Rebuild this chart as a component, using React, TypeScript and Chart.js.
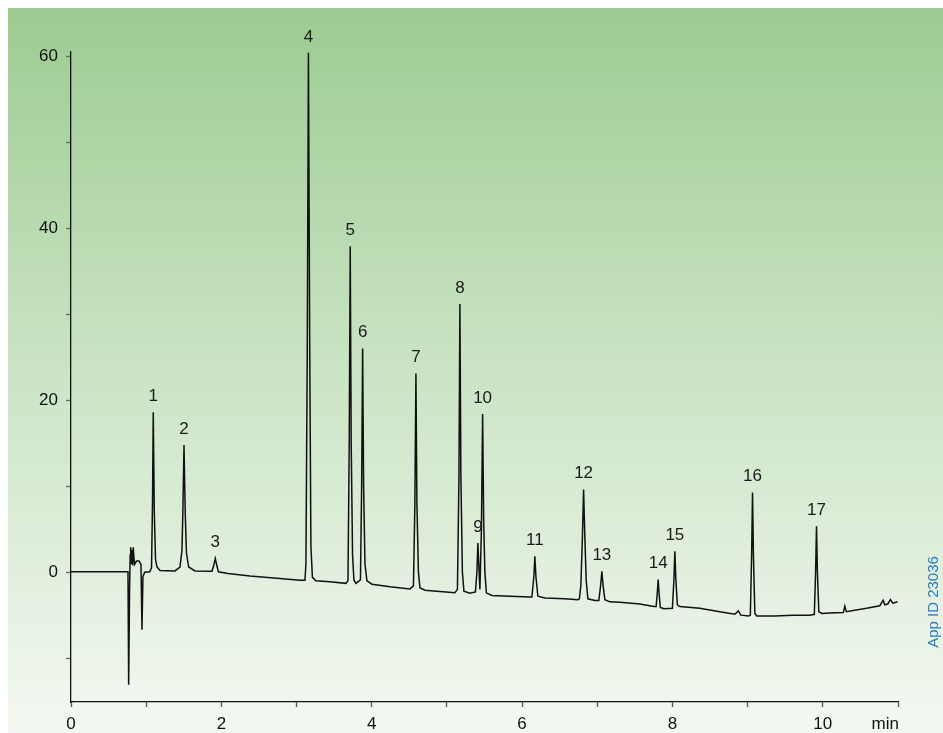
import React, { useEffect, useRef } from "react";
import { Chart, registerables } from "chart.js";

Chart.register(...registerables);

// ---- data ----
const traceTime = [
  0.0, 0.5, 0.758, 0.767, 0.779, 0.787, 0.794, 0.802, 0.811, 0.819, 0.828, 0.844, 0.871, 0.904, 0.931, 0.944, 0.957, 0.98,
  1.047, 1.071, 1.084, 1.094, 1.108, 1.124, 1.144, 1.184, 1.383, 1.449, 1.476, 1.489, 1.503, 1.519, 1.536, 1.565, 1.649,
  1.875, 1.899, 1.919, 1.939, 1.961, 2.088, 2.38, 2.779, 3.045, 3.112, 3.125, 3.142, 3.158, 3.176, 3.191, 3.211, 3.258,
  3.444, 3.657, 3.684, 3.701, 3.714, 3.727, 3.745, 3.763, 3.79, 3.85, 3.866, 3.879, 3.892, 3.91, 3.936, 4.003, 4.242,
  4.508, 4.555, 4.574, 4.588, 4.601, 4.621, 4.641, 4.707, 4.907, 5.106, 5.14, 5.16, 5.173, 5.186, 5.206, 5.226, 5.306,
  5.379, 5.399, 5.412, 5.426, 5.439, 5.459, 5.475, 5.489, 5.505, 5.525, 5.598, 5.838, 6.104, 6.13, 6.157, 6.17, 6.184,
  6.21, 6.303, 6.569, 6.742, 6.762, 6.782, 6.802, 6.818, 6.835, 6.853, 6.875, 6.968, 7.021, 7.045, 7.061, 7.077, 7.101,
  7.168, 7.301, 7.566, 7.753, 7.783, 7.799, 7.81, 7.822, 7.839, 7.886, 7.999, 8.019, 8.032, 8.045, 8.065, 8.098, 8.364,
  8.63, 8.83, 8.876, 8.91, 9.016, 9.036, 9.053, 9.065, 9.077, 9.096, 9.122, 9.362, 9.601, 9.827, 9.887, 9.904, 9.916,
  9.928, 9.947, 9.987, 10.093, 10.273, 10.293, 10.312, 10.581, 10.758, 10.802, 10.824, 10.864, 10.9, 10.931, 10.995,
];
const traceSignal = [
  0.05, 0.05, 0.05, -13.1, -2.0, 2.0, 2.9, 1.0, 2.6, 0.8, 2.9, 0.9, 1.3, 1.3, 0.9, -6.7, -0.5, 0.0,
  0.05, 0.5, 8.0, 18.6, 7.0, 1.5, 0.6, 0.2, 0.15, 0.6, 2.5, 7.5, 14.8, 7.0, 2.2, 0.6, 0.15,
  0.1, 0.8, 1.6, 0.8, 0.05, -0.15, -0.45, -0.75, -0.93, -0.95, 1.0, 25.0, 60.4, 25.0, 3.0, -0.6, -1.0,
  -1.1, -1.3, -1.0, 15.0, 37.9, 15.0, 2.0, -0.9, -1.3, -0.9, 10.0, 26.0, 10.0, 1.0, -1.0, -1.4, -1.7,
  -1.95, -1.6, 8.0, 23.1, 8.0, 0.0, -1.8, -2.1, -2.25, -2.4, -2.0, 11.0, 31.2, 11.0, 0.0, -2.2, -2.45,
  -2.3, 0.0, 3.4, 0.5, -2.0, 5.0, 18.4, 6.0, 0.0, -2.4, -2.7, -2.8, -2.9, -2.9, -0.5, 1.86, -0.5,
  -2.8, -3.0, -3.1, -3.2, -3.1, -1.5, 4.0, 9.6, 4.0, -1.0, -3.1, -3.3, -3.3, -1.5, 0.1, -1.5, -3.2,
  -3.45, -3.5, -3.7, -4.0, -4.0, -2.3, -0.85, -2.5, -4.1, -4.25, -4.2, -1.0, 2.44, -0.8, -3.8, -4.0, -4.2,
  -4.6, -4.9, -4.5, -5.0, -5.1, -5.0, 2.0, 9.27, 2.0, -4.8, -5.1, -5.1, -5.0, -5.0, -4.9, 0.0, 5.35,
  0.0, -4.6, -4.8, -4.75, -4.7, -3.95, -4.6, -4.2, -3.9, -3.26, -3.8, -3.7, -3.2, -3.6, -3.45,
];

const peakNames = ["1", "2", "3", "4", "5", "6", "7", "8", "9", "10", "11", "12", "13", "14", "15", "16", "17"];
const peakTimes = [1.094, 1.503, 1.919, 3.158, 3.714, 3.879, 4.588, 5.173, 5.412, 5.475, 6.17, 6.818, 7.061, 7.81, 8.032, 9.065, 9.916];
const peakHeights = [18.6, 14.8, 1.6, 60.4, 37.9, 26.0, 23.1, 31.2, 3.4, 18.4, 1.86, 9.6, 0.1, -0.85, 2.44, 9.27, 5.35];

const xTickValues = [0, 1, 2, 3, 4, 5, 6, 7, 8, 9, 10, 11];
const xTickLabels = ["0", "", "2", "", "4", "", "6", "", "8", "", "10", ""];
const xUnitLabel = "min";
const yTickValues = [-10, 0, 10, 20, 30, 40, 50, 60];
const yTickLabels = ["", "0", "", "20", "", "40", "", "60"];
const appIdText = "App ID 23036";

const FONT = "'Liberation Sans', Arial, Helvetica, sans-serif";

export default function App() {
  const canvasRef = useRef<HTMLCanvasElement | null>(null);

  useEffect(() => {
    const canvas = canvasRef.current;
    if (!canvas) return;

    const backgroundPlugin = {
      id: "bgGradient",
      beforeDraw(chart: any) {
        const { ctx, width, height } = chart;
        const g = ctx.createLinearGradient(0, 0, 0, height);
        g.addColorStop(0, "#9ccb91");
        g.addColorStop(0.5, "#cbe4c5");
        g.addColorStop(1, "#f4f8f2");
        ctx.save();
        ctx.fillStyle = g;
        ctx.fillRect(0, 0, width, height);
        ctx.restore();
      },
    };

    const labelsPlugin = {
      id: "peakLabels",
      afterDraw(chart: any) {
        const { ctx } = chart;
        const xs = chart.scales.x;
        const ys = chart.scales.y;
        ctx.save();
        ctx.font = `17px ${FONT}`;
        ctx.fillStyle = "#1a1a1a";
        ctx.textAlign = "center";
        ctx.textBaseline = "middle";
        peakNames.forEach((name, i) => {
          const px = xs.getPixelForValue(peakTimes[i]);
          const py = ys.getPixelForValue(peakHeights[i]);
          ctx.fillText(name, px, py - 16);
        });
        // unit label at the axis end
        ctx.textAlign = "right";
        ctx.textBaseline = "top";
        ctx.fillStyle = "#111";
        ctx.fillText(xUnitLabel, xs.getPixelForValue(11) + 1, chart.chartArea.bottom + 14);
        // vertical app id
        ctx.translate(926, 594);
        ctx.rotate(-Math.PI / 2);
        ctx.font = `15px ${FONT}`;
        ctx.fillStyle = "#2b7bc4";
        ctx.textAlign = "center";
        ctx.textBaseline = "middle";
        ctx.fillText(appIdText, 0, 0);
        ctx.restore();
      },
    };

    const chart = new Chart(canvas, {
      type: "line",
      data: {
        datasets: [
          {
            data: traceTime.map((t, i) => ({ x: t, y: traceSignal[i] })),
            borderColor: "#111",
            borderWidth: 1.5,
            pointRadius: 0,
            tension: 0,
            fill: false,
          },
        ],
      },
      options: {
        animation: false,
        responsive: false,
        devicePixelRatio: 1,
        layout: { padding: { left: 0, right: 45, top: 44, bottom: 0 } },
        plugins: { legend: { display: false }, tooltip: { enabled: false } },
        scales: {
          x: {
            type: "linear",
            min: 0,
            max: 11,
            afterBuildTicks: (s: any) => {
              s.ticks = xTickValues.map((v) => ({ value: v }));
            },
            afterFit: (s: any) => {
              s.height = 31;
            },
            ticks: {
              autoSkip: false,
              maxRotation: 0,
              padding: 7,
              color: "#111",
              font: { family: FONT, size: 17 },
              callback: (v: any) => {
                const i = xTickValues.indexOf(Number(v));
                return i >= 0 ? xTickLabels[i] : "";
              },
            },
            grid: { drawOnChartArea: false, drawTicks: true, tickLength: 5, tickColor: "#555", tickWidth: 1.3 },
            border: { display: true, color: "#111", width: 1.3 },
          },
          y: {
            type: "linear",
            min: -15.1,
            max: 60.5,
            afterBuildTicks: (s: any) => {
              s.ticks = yTickValues.map((v) => ({ value: v }));
            },
            afterFit: (s: any) => {
              s.width = 63;
            },
            ticks: {
              autoSkip: false,
              padding: 8,
              color: "#111",
              font: { family: FONT, size: 17 },
              callback: (v: any) => {
                const i = yTickValues.indexOf(Number(v));
                return i >= 0 ? yTickLabels[i] : "";
              },
            },
            grid: { drawOnChartArea: false, drawTicks: true, tickLength: 5, tickColor: "#666", tickWidth: 1.3 },
            border: { display: true, color: "#111", width: 1.3 },
          },
        },
      },
      plugins: [backgroundPlugin, labelsPlugin],
    } as any);

    return () => chart.destroy();
  }, []);

  return (
    <div style={{ position: "fixed", left: 8, top: 8, width: 935, height: 725 }}>
      <canvas ref={canvasRef} width={935} height={725} style={{ width: 935, height: 725, display: "block" }} />
    </div>
  );
}
